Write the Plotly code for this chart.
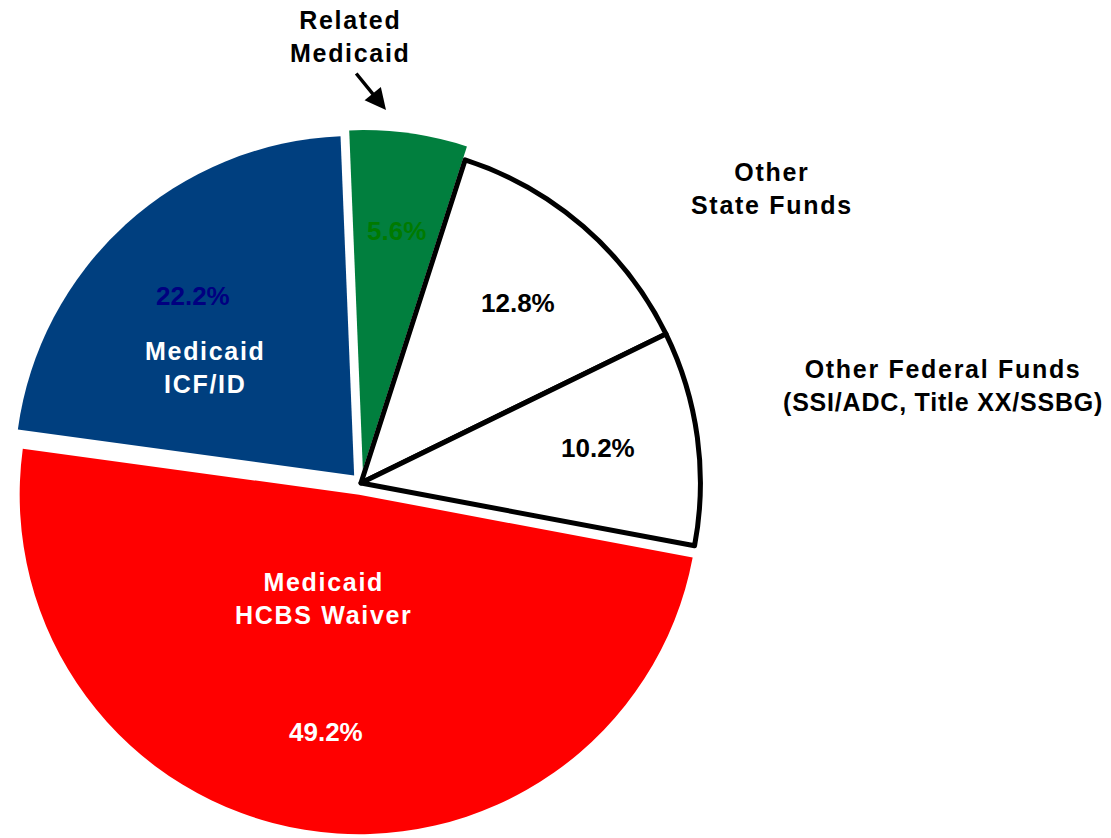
import plotly.graph_objects as go

# data, clockwise from 12 o'clock
labels = ["Related Medicaid", "Other State Funds", "Other Federal Funds",
          "Medicaid HCBS Waiver", "Medicaid ICF/ID"]
values = [5.6, 12.8, 10.2, 49.2, 22.2]
colors = ["#017F3E", "#FFFFFF", "#FFFFFF", "#FF0000", "#003F7F"]
pct_colors = ["#007A00", "#000000", "#000000", "#FFFFFF", "#000080"]

W, H = 1111, 838


def px(x, y):
    # pixel position -> paper coords (margins are zero)
    return x / W, 1 - y / H


def spaced(s, ls=1.7):
    out = []
    for p in s.split("\n"):
        l = 0.8 if p.startswith("(") else ls
        out.append('<span style="letter-spacing:%spx">%s</span>' % (l, p))
    return "<br>".join(out)


fig = go.Figure()

fig.add_trace(go.Pie(
    labels=labels,
    values=values,
    sort=False,
    direction="clockwise",
    rotation=-2.3,
    pull=[0.04, 0, 0, 0.035, 0.03],
    marker=dict(colors=colors,
                line=dict(color=["rgba(0,0,0,0)", "black", "black",
                                 "rgba(0,0,0,0)", "rgba(0,0,0,0)"],
                          width=[0, 5, 5, 0, 0])),
    textinfo="none",
    hoverinfo="label+percent",
    showlegend=False,
    domain=dict(x=[0, 706 / W], y=[1 - 829 / H, 1 - 121 / H]),
))

font_base = dict(family="Arial, Liberation Sans, sans-serif", size=25, weight="bold")

# percentage labels
pct_pos = [(388, 223), (510, 295), (590, 440), (318, 724), (185, 288)]
for v, c, (x, y) in zip(values, pct_colors, pct_pos):
    ax_, ay_ = px(x, y)
    fig.add_annotation(x=ax_, y=ay_, xref="paper", yref="paper", showarrow=False,
                       xanchor="center", yanchor="middle",
                       text="%.1f%%" % v, font=dict(font_base, size=26, color=c))

# category labels
cat_text = [
    ("Related\nMedicaid", (342, 28), "black"),
    ("Other\nState Funds", (764, 180), "black"),
    ("Other Federal Funds\n(SSI/ADC, Title XX/SSBG)", (935, 378), "black"),
    ("Medicaid\nHCBS Waiver", (316, 590), "white"),
    ("Medicaid\nICF/ID", (197, 359), "white"),
]
for t, (x, y), c in cat_text:
    ax_, ay_ = px(x, y)
    fig.add_annotation(x=ax_, y=ay_, xref="paper", yref="paper", showarrow=False,
                       xanchor="center", yanchor="middle",
                       text=spaced(t), font=dict(font_base, color=c))

# arrow to the green slice
hx, hy = px(378, 102)
fig.add_annotation(x=hx, y=hy, xref="paper", yref="paper", text="",
                   showarrow=True, arrowhead=2, arrowsize=1.2, arrowwidth=3.5,
                   arrowcolor="black", ax=-31, ay=-38, standoff=0)

fig.update_layout(
    width=W, height=H,
    margin=dict(l=0, r=0, t=0, b=0),
    paper_bgcolor="white",
    plot_bgcolor="white",
)

fig.write_html("out.html")
